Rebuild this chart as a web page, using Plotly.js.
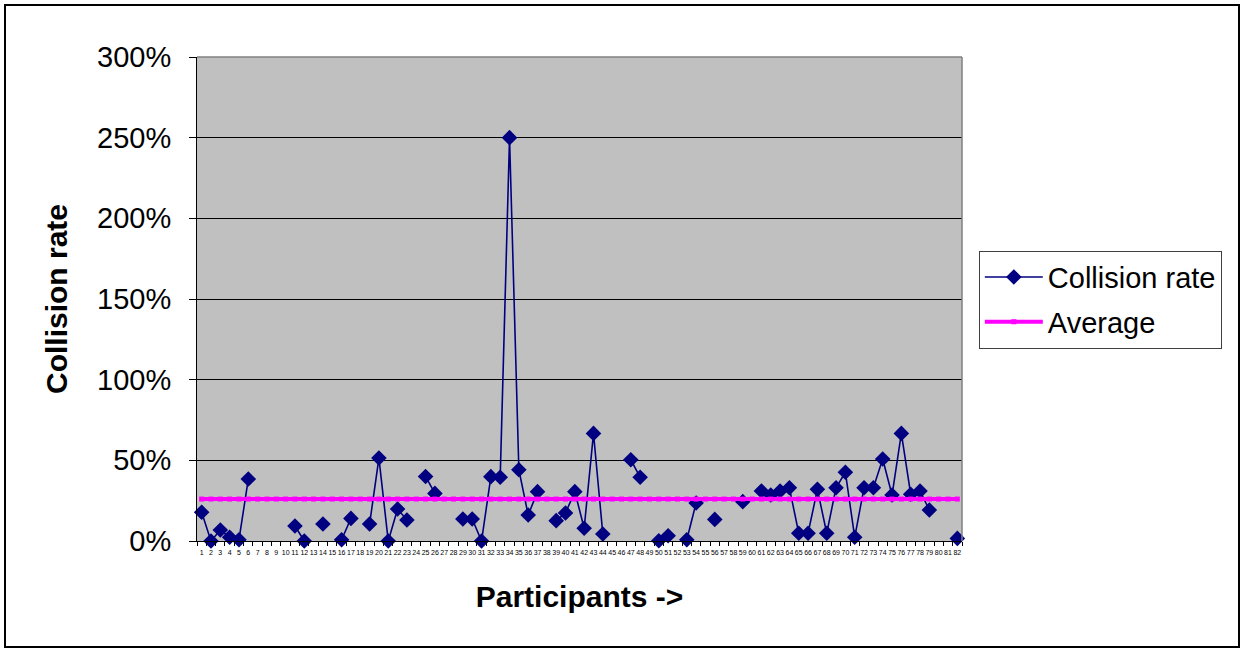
<!DOCTYPE html>
<html>
<head>
<meta charset="utf-8">
<script src="https://cdn.plot.ly/plotly-3.0.1.min.js"></script>
<style>
  html, body { margin: 0; padding: 0; background: #fff; }
  #wrap { position: relative; width: 1243px; height: 650px; }
  #chart { position: absolute; left: 0; top: 0; width: 1243px; height: 650px; }
  #frame { position: absolute; left: 4px; top: 4px; width: 1232px; height: 640px; border: 2px solid #000; pointer-events: none; }
</style>
</head>
<body>
<div id="wrap">
  <div id="chart"></div>
  <div id="frame"></div>
</div>
<script>
const participants = [
  1,2,3,4,5,6,7,8,9,10,11,12,13,14,15,16,17,18,19,20,
  21,22,23,24,25,26,27,28,29,30,31,32,33,34,35,36,37,38,39,40,
  41,42,43,44,45,46,47,48,49,50,51,52,53,54,55,56,57,58,59,60,
  61,62,63,64,65,66,67,68,69,70,71,72,73,74,75,76,77,78,79,80,
  81,82
];
const collisionRate = [
  0.178, 0, 0.068, 0.023, 0.008, 0.384, null, null, null, null,
  0.093, 0, null, 0.105, null, 0.008, 0.14, null, 0.105, 0.514,
  0, 0.198, 0.13, null, 0.40, 0.295, null, null, 0.136, 0.136,
  0, 0.399, 0.395, 2.5, 0.442, 0.161, 0.306, null, 0.126, 0.174,
  0.306, 0.079, 0.667, 0.043, null, null, 0.504, 0.395, null, 0.002,
  0.033, null, 0.008, 0.236, null, 0.134, null, null, 0.244, null,
  0.31, 0.285, 0.31, 0.33, 0.048, 0.048, 0.32, 0.048, 0.33, 0.426,
  0.023, 0.33, 0.33, 0.508, 0.285, 0.667, 0.29, 0.31, 0.192, null,
  null, 0.016
];
const averageValue = 0.26;
const averageSeries = participants.map(() => averageValue);
const yTickVals = [0, 0.5, 1, 1.5, 2, 2.5, 3];
const yTickText = ['0%', '50%', '100%', '150%', '200%', '250%', '300%'];

const xCats = participants.map(String);
const FONT = '"Liberation Sans", Arial, sans-serif';

const traces = [
  {
    x: xCats, y: collisionRate, name: 'Collision rate', type: 'scatter', mode: 'lines+markers',
    line: { color: '#000080', width: 1.6 },
    marker: { symbol: 'diamond', size: 12, color: '#000080' },
    connectgaps: false, cliponaxis: false, legendgroup: 'a'
  },
  {
    x: xCats, y: averageSeries, name: 'Average', type: 'scatter', mode: 'lines+markers',
    line: { color: '#ff00ff', width: 4 },
    marker: { symbol: 'square', size: 5, color: '#ff00ff' },
    cliponaxis: false, legendgroup: 'b'
  }
];

const layout = {
  width: 1243, height: 650,
  margin: { l: 197, r: 281, t: 57, b: 109 },
  paper_bgcolor: '#ffffff',
  plot_bgcolor: '#c0c0c0',
  font: { family: FONT, color: '#000', size: 28 },
  showlegend: true,
  legend: {
    x: 1.022, xanchor: 'left', y: 0.6, yanchor: 'top',
    bgcolor: '#ffffff', bordercolor: '#404040', borderwidth: 1,
    font: { family: FONT, size: 29, color: '#000' },
    traceorder: 'grouped', tracegroupgap: 4, itemwidth: 58
  },
  xaxis: {
    type: 'category',
    tickmode: 'array', tickvals: xCats, ticktext: xCats,
    tickangle: 0,
    tickfont: { family: FONT, size: 7, color: '#000' },
    ticks: 'outside', ticklen: 4, tickcolor: '#000', tickson: 'boundaries',
    ticklabelstandoff: 5,
    showline: true, linecolor: '#000', linewidth: 1,
    showgrid: false, zeroline: false,
    range: [-0.5, 81.5],
    title: { text: 'Participants ->', font: { family: FONT, size: 30, color: '#000', weight: 'bold' }, standoff: 30 }
  },
  yaxis: {
    range: [0, 3],
    tickmode: 'array', tickvals: yTickVals, ticktext: yTickText,
    tickfont: { family: FONT, size: 29, color: '#000' },
    ticks: 'outside', ticklen: 7, tickcolor: '#000',
    ticklabelstandoff: 12,
    showline: true, linecolor: '#000', linewidth: 1,
    showgrid: true, gridcolor: '#000', gridwidth: 1,
    zeroline: false,
    title: { text: 'Collision rate', font: { family: FONT, size: 30, color: '#000', weight: 'bold' }, standoff: 20 }
  },
  shapes: [
    { type: 'line', xref: 'paper', yref: 'paper', x0: 0, x1: 1, y0: 1, y1: 1, line: { color: '#808080', width: 1.5 }, layer: 'above' },
    { type: 'line', xref: 'paper', yref: 'paper', x0: 1, x1: 1, y0: 0, y1: 1, line: { color: '#808080', width: 1.5 }, layer: 'above' }
  ]
};

Plotly.newPlot('chart', traces, layout, { staticPlot: true, displayModeBar: false });
</script>
</body>
</html>
